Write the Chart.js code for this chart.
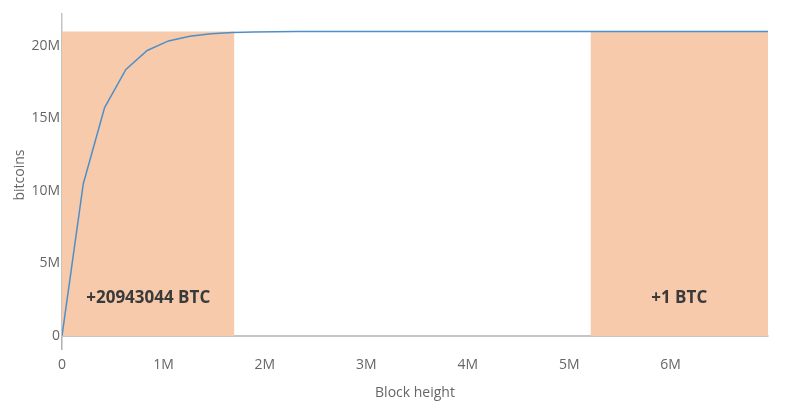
<!DOCTYPE html>
<html>
<head>
<meta charset="utf-8">
<script src="https://cdn.jsdelivr.net/npm/chart.js@4"></script>
<style>
  html, body { margin: 0; padding: 0; background: #fff; }
  #wrap { width: 800px; height: 418px; }
</style>
</head>
<body>
<div id="wrap"><canvas id="supply-chart"></canvas></div>
<script>
// block heights at each halving and the total coins mined by then
const blockHeights = [0, 210000, 420000, 630000, 840000, 1050000, 1260000, 1470000, 1680000, 1890000, 2100000, 2310000, 2520000, 6960000];
const totalCoins = [0, 10500000, 15750000, 18375000, 19687500, 20343750, 20671875, 20835938, 20917969, 20958984, 20979492, 20989746, 20994873, 21000000];

// shaded ranges [from, to] in block height, with their height and caption
const shadeRanges = [[0, 1700000], [5210000, 6960000]];
const shadeTop = 21000000;
const shadeCaptions = ["+20943044 BTC", "+1 BTC"];
const captionLevel = 2620000;

const xTicks = [0, 1000000, 2000000, 3000000, 4000000, 5000000, 6000000];
const xTickLabels = ["0", "1M", "2M", "3M", "4M", "5M", "6M"];
const yTicks = [0, 5000000, 10000000, 15000000, 20000000];
const yTickLabels = ["0", "5M", "10M", "15M", "20M"];

const shadeColor = "#f6caab";
const lineColor = "#4f8fc8";
const axisColor = "#c4c4c4";
const textColor = "#666666";

Chart.defaults.font.family = "'Open Sans', 'Noto Sans', sans-serif";
Chart.defaults.font.size = 14;
Chart.defaults.color = textColor;

const shadeSets = shadeRanges.map((r) => ({
  type: "line",
  data: [
    { x: r[0], y: shadeTop },
    { x: r[1], y: shadeTop },
  ],
  fill: "origin",
  backgroundColor: shadeColor,
  borderWidth: 0,
  pointRadius: 0,
  order: 2,
}));

const captions = {
  id: "captions",
  afterDatasetsDraw(chart) {
    const { ctx, scales } = chart;
    ctx.save();
    ctx.font = "bold 17px 'Open Sans', 'Noto Sans', sans-serif";
    ctx.fillStyle = "#3a3a3a";
    ctx.textAlign = "center";
    ctx.textBaseline = "middle";
    shadeRanges.forEach((r, i) => {
      const cx = scales.x.getPixelForValue((r[0] + r[1]) / 2);
      const cy = scales.y.getPixelForValue(captionLevel);
      ctx.fillText(shadeCaptions[i], cx, cy);
    });
    ctx.restore();
  },
};

const config = {
  type: "line",
  data: {
    datasets: [
      {
        data: blockHeights.map((h, i) => ({ x: h, y: totalCoins[i] })),
        borderColor: lineColor,
        borderWidth: 1.5,
        pointRadius: 0,
        tension: 0,
        fill: false,
        order: 1,
      },
      ...shadeSets,
    ],
  },
  options: {
    responsive: true,
    maintainAspectRatio: false,
    animation: false,
    layout: { padding: { top: 14, right: 32, left: 0, bottom: 0 } },
    plugins: { legend: { display: false }, tooltip: { enabled: false } },
    scales: {
      x: {
        type: "linear",
        min: 0,
        max: 6960000,
        afterBuildTicks: (s) => { s.ticks = xTicks.map((v) => ({ value: v })); },
        afterFit: (s) => { s.height = 82; },
        ticks: {
          padding: 7,
          maxRotation: 0,
          callback: (v) => xTickLabels[xTicks.indexOf(v)],
        },
        grid: {
          drawOnChartArea: false,
          drawTicks: true,
          tickLength: 14,
          lineWidth: 1.5,
          color: (c) => (c.index === 0 ? "#b0b0b0" : "rgba(0,0,0,0)"),
        },
        border: { display: true, color: axisColor, width: 2 },
        title: { display: true, text: "Block height", padding: { top: 0, bottom: 17 } },
      },
      y: {
        min: 0,
        max: 22200000,
        afterBuildTicks: (s) => { s.ticks = yTicks.map((v) => ({ value: v })); },
        afterFit: (s) => { s.width = 62; },
        ticks: {
          padding: 2,
          callback: (v) => yTickLabels[yTicks.indexOf(v)],
        },
        grid: { display: false, drawTicks: false },
        border: { display: true, color: axisColor, width: 1.5 },
        title: { display: true, text: "bitcoins", padding: { top: 12, bottom: 0 } },
      },
    },
  },
  plugins: [captions],
};

const supplyChart = new Chart(document.querySelector("#supply-chart"), config);
</script>
</body>
</html>
